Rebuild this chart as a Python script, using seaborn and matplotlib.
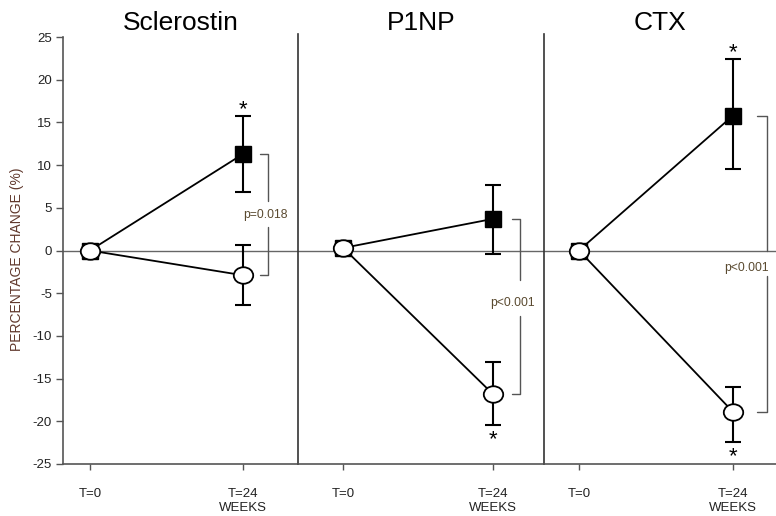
import numpy as np
import pandas as pd
import matplotlib
matplotlib.use("Agg")
import matplotlib.pyplot as plt
from matplotlib.path import Path
from matplotlib.transforms import Affine2D
import seaborn as sns

# ---- data -------------------------------------------------------------
panels = ["Sclerostin", "P1NP", "CTX"]
time_labels = ["T=0", "T=24\nWEEKS"]
baseline = [0.0, 0.3, 0.0]

# filled squares (group A) at T=24
square_change = [11.3, 3.7, 15.8]
square_lo = [6.9, -0.4, 9.6]
square_hi = [15.7, 7.7, 22.4]
square_star = [True, False, True]

# open circles (group B) at T=24
circle_change = [-2.9, -16.8, -18.9]
circle_lo = [-6.4, -20.4, -22.4]
circle_hi = [0.7, -13.1, -16.0]
circle_star = [False, True, True]

p_labels = ["p=0.018", "p<0.001", "p<0.001"]

# ---- layout -----------------------------------------------------------
W, H = 776, 516
bottom_px, top_px = 464, 37
panel_px = [(63, 298), (298, 544), (544, 776)]
xlims = [(-0.176, 1.359), (-0.302, 1.342), (-0.227, 1.279)]
bracket_x = [1.163, 1.181, 1.219]
bracket_arm = [0.052, 0.056, 0.063]
gap_top = [5.8, -3.5, 0.0]
gap_bot = [2.8, -7.7, -3.0]
p_text_x = [1.144, 1.132, 1.09]
p_text_y = [4.1, -6.2, -2.0]

sns.set_theme(style="white")
plt.rcParams["font.family"] = ["Liberation Sans", "DejaVu Sans"]
plt.rcParams["axes.unicode_minus"] = False

fig = plt.figure(figsize=(W / 100, H / 100), dpi=100)

ellipse = Path.unit_circle().transformed(Affine2D().scale(1.0, 0.85))

tick_col = "#222222"
axis_col = "#555555"

axes = []
for i, name in enumerate(panels):
    l, r = panel_px[i]
    ax = fig.add_axes([l / W, 1 - bottom_px / H, (r - l) / W, (bottom_px - top_px) / H])
    axes.append(ax)

    df_sq = pd.DataFrame({"t": [0, 1], "v": [baseline[i], square_change[i]]})
    df_ci = pd.DataFrame({"t": [0, 1], "v": [baseline[i], circle_change[i]]})

    ax.axhline(0, color="#666666", lw=1.0, zorder=1)

    # error bars at T=24
    ax.errorbar([1], [square_change[i]],
                yerr=[[square_change[i] - square_lo[i]], [square_hi[i] - square_change[i]]],
                fmt="none", ecolor="black", elinewidth=1.5, capsize=5.5, capthick=1.5, zorder=2)
    ax.errorbar([1], [circle_change[i]],
                yerr=[[circle_change[i] - circle_lo[i]], [circle_hi[i] - circle_change[i]]],
                fmt="none", ecolor="black", elinewidth=1.5, capsize=5.5, capthick=1.5, zorder=2)

    sns.lineplot(data=df_sq, x="t", y="v", ax=ax, color="black", lw=1.3,
                 marker="s", markersize=11, markerfacecolor="black",
                 markeredgecolor="black", markeredgewidth=1.0, zorder=3)
    sns.lineplot(data=df_ci, x="t", y="v", ax=ax, color="black", lw=1.3,
                 marker=ellipse, markersize=14, markerfacecolor="white",
                 markeredgecolor="black", markeredgewidth=1.3, zorder=4)

    # significance asterisks
    if square_star[i]:
        ax.text(1, square_hi[i] + 0.1, "*", ha="center", va="baseline", fontsize=16, color="black")
    if circle_star[i]:
        ax.text(1, circle_lo[i] - 2.4, "*", ha="center", va="baseline", fontsize=16, color="black")

    # bracket between groups
    bx, arm = bracket_x[i], bracket_arm[i]
    bc = "#555555"
    ax.plot([bx - arm, bx, bx], [square_change[i], square_change[i], gap_top[i]], color=bc, lw=1.0)
    ax.plot([bx - arm, bx, bx], [circle_change[i], circle_change[i], gap_bot[i]], color=bc, lw=1.0)
    ax.text(p_text_x[i], p_text_y[i], p_labels[i], ha="center", va="center",
            fontsize=8.7, color="#5a4a30")

    ax.set_xlim(*xlims[i])
    ax.set_ylim(-25, 25)
    ax.set_xticks([0, 1])
    ax.set_xticklabels(time_labels, color=tick_col, fontsize=9.5, linespacing=1.3)
    ax.tick_params(axis="x", direction="out", length=4, width=1.0, color=axis_col, pad=13, bottom=True)
    ax.set_xlabel("")
    ax.set_ylabel("")
    ax.set_title(name, fontsize=19, pad=5, color="black")

    for s in ["top", "right"]:
        ax.spines[s].set_visible(False)
    ax.spines["bottom"].set_color(axis_col)
    ax.spines["bottom"].set_linewidth(1.2)
    ax.spines["left"].set_color("#333333" if i > 0 else axis_col)
    ax.spines["left"].set_linewidth(1.2)
    ax.patch.set_alpha(0)

    if i == 0:
        ax.set_yticks(np.arange(-25, 26, 5))
        ax.tick_params(axis="y", direction="out", length=5, width=1.0, color=axis_col,
                       labelsize=9.5, labelcolor=tick_col, pad=3, left=True)
        ax.set_ylabel("PERCENTAGE CHANGE (%)", fontsize=10, color="#60382c")
        ax.yaxis.set_label_coords(-0.166, 0.48)
    else:
        ax.set_yticks([])
        ax.spines["left"].set_bounds(-25, 25.3)

fig.savefig("out.png", dpi=100)
